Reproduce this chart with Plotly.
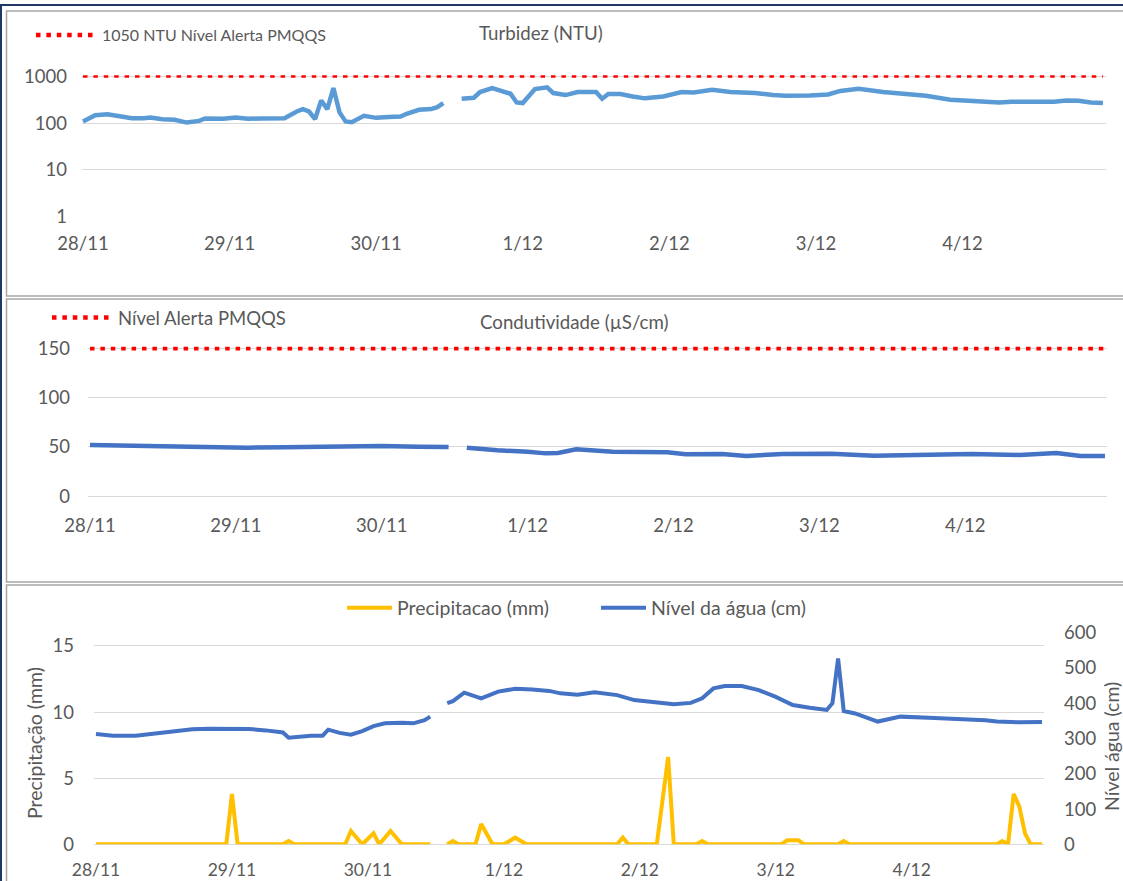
import plotly.graph_objects as go

W, H = 1123, 881


def px(x):
    return x / W


def py(y):
    return 1 - y / H


# ---------------- data ----------------
dates = ["28/11", "29/11", "30/11", "1/12", "2/12", "3/12", "4/12"]
day_hours = [0, 24, 48, 72, 96, 120, 144]

# Turbidez (NTU) - hour since 28/11 00:00
turb_h = [0, 2, 4, 6, 8, 10, 11, 13, 15, 17, 19, 20, 23, 25, 27, 29, 31, 33,
          35, 36, 37, 38, 39, 40, 41, 42, 43, 44, 46, 48, 50, 52, 53, 55, 57,
          58, 59, 60,
          62, 64, 65, 67, 70, 71, 72, 74, 76, 77, 79, 81, 84, 85, 86, 88, 90,
          92, 95, 98, 100, 103, 106, 110, 113, 115, 119, 122, 124, 127, 131,
          135, 138, 142, 145, 147, 150, 152, 156, 159, 161, 163, 165, 167]
turb_v = [109, 148, 156, 144, 128, 128, 132, 122, 118, 103, 112, 126, 124, 132,
          124, 126, 130, 128,
          178, 200, 178, 122, 307, 200, 566, 170, 109, 105, 144, 130, 135, 139,
          159, 194, 200, 221, 269, None,
          333, 350, 464, 566, 427, 278, 270, 537, 584, 441, 400, 464, 464, 333,
          420, 420, 374, 340, 374, 464, 456, 520, 464, 441, 400, 386, 393, 412,
          490, 547, 464, 407, 386, 318, 302, 297, 278, 287, 287, 287, 307, 302,
          278, 269]
turb_alert = 1050

# Condutividade (uS/cm)
cond_h = [0, 8, 13, 20, 26, 32, 38, 42, 48, 54, 59, 60,
          62, 67, 72, 75, 77, 80, 83, 86, 95, 98, 104, 108, 114, 122, 129, 136,
          145, 153, 159, 163, 167]
cond_v = [52, 51.3, 50, 49.6, 49.3, 49.6, 50.3, 51.3, 51, 50.3, 50, None,
          49.3, 46.6, 45.2, 43.5, 43.9, 47.6, 46.5, 45.2, 44.6, 42.6, 42.9, 40.9,
          42.9, 43.2, 41.2, 42.2, 42.9, 41.9, 43.9, 40.9, 40.9]
cond_alert = 150

# Precipitacao (mm)
rain_h = [0, 23, 24, 25, 33, 34, 35, 44, 45, 47, 49, 50, 52, 54, 59, 60,
          62, 63, 64, 67, 68, 70, 72, 74, 76, 92, 93, 94, 99, 101, 102, 106,
          107, 108, 121, 122, 124, 125, 131, 132, 133, 159, 160, 161, 162, 163,
          164, 165, 167]
rain_v = [0, 0, 3.8, 0, 0, 0.25, 0, 0, 1.0, 0, 0.83, 0, 1.0, 0, 0, None,
          0, 0.25, 0, 0, 1.54, 0, 0, 0.5, 0, 0, 0.5, 0, 0, 6.6, 0, 0,
          0.25, 0, 0, 0.3, 0.3, 0, 0, 0.25, 0, 0, 0.25, 0, 3.8, 2.85,
          0.83, 0, 0]

# Nivel da agua (cm)
level_h = [0, 3, 7, 10, 14, 17, 20, 24, 27, 30, 33, 34, 36, 38, 40, 41, 43,
           45, 47, 49, 51, 54, 56, 58, 59, 60,
           62, 63, 65, 68, 71, 74, 77, 80, 82, 85, 88, 92, 95, 99, 102, 105,
           107, 109, 111, 114, 117, 120, 123, 126, 129, 130, 131, 132, 134, 138,
           142, 147, 153, 157, 159, 163, 167]
level_v = [313, 308, 308, 313, 320, 326, 328, 327, 327, 323, 317, 302, 305,
           308, 308, 325, 316, 311, 321, 335, 343, 345, 343, 352, 362, None,
           400, 406, 430, 414, 433, 441, 439, 435, 428, 424, 431, 423, 409, 401,
           397, 401, 414, 442, 449, 449, 437, 418, 395, 387, 381, 400, 527, 378,
           371, 348, 362, 359, 355, 352, 348, 346, 347]

# ---------------- style ----------------
FONT = "Lato"
TXT = "#595959"
GRID = "#D9D9D9"
RED = "#FF0000"

fig = go.Figure()

dot = "4.5px,5.9px"

fig.add_trace(go.Scatter(x=[0, 167], y=[turb_alert, turb_alert], mode="lines",
                         name="1050 NTU Nível Alerta PMQQS",
                         line=dict(color=RED, width=4.5, dash=dot),
                         xaxis="x", yaxis="y", legend="legend"))
fig.add_trace(go.Scatter(x=turb_h, y=turb_v, mode="lines", name="Turbidez",
                         line=dict(color="#5B9BD5", width=4.5),
                         connectgaps=False, showlegend=False,
                         xaxis="x", yaxis="y"))

fig.add_trace(go.Scatter(x=[0, 167], y=[cond_alert, cond_alert], mode="lines",
                         name="Nível Alerta PMQQS",
                         line=dict(color=RED, width=4.5, dash=dot),
                         xaxis="x2", yaxis="y2", legend="legend2"))
fig.add_trace(go.Scatter(x=cond_h, y=cond_v, mode="lines", name="Condutividade",
                         line=dict(color="#4472C4", width=4.5),
                         connectgaps=False, showlegend=False,
                         xaxis="x2", yaxis="y2"))

fig.add_trace(go.Scatter(x=rain_h, y=rain_v, mode="lines",
                         name="Precipitacao (mm)",
                         line=dict(color="#FFC000", width=4),
                         connectgaps=False,
                         xaxis="x3", yaxis="y3", legend="legend3"))
fig.add_trace(go.Scatter(x=level_h, y=level_v, mode="lines",
                         name="Nível da água (cm)",
                         line=dict(color="#4472C4", width=4),
                         connectgaps=False,
                         xaxis="x3", yaxis="y4", legend="legend3"))

TICK = 18.5
tickfont = dict(family=FONT, size=TICK, color=TXT)


def xax(x0, x1, r0, r1, anchor, standoff, size=TICK):
    return dict(domain=[px(x0), px(x1)], range=[r0, r1], anchor=anchor,
                tickmode="array", tickvals=day_hours, ticktext=dates,
                showgrid=False, zeroline=False, showline=False,
                tickfont=dict(family=FONT, size=size, color=TXT), ticks="",
                ticklabelstandoff=standoff, automargin=False, fixedrange=True)


layout = dict(
    width=W, height=H,
    margin=dict(l=0, r=0, t=0, b=0, pad=0, autoexpand=False),
    paper_bgcolor="white", plot_bgcolor="white",
    font=dict(family=FONT, color=TXT),
    xaxis=xax(82, 1106, -0.16, 167.49, "y", 14),
    yaxis=dict(domain=[py(216.6), py(75.3)], type="log", range=[0, 3.025],
               anchor="x", tickmode="array", tickvals=[1, 10, 100, 1000],
               ticktext=["1", "10", "100", "1000"], gridcolor=GRID,
               gridwidth=1.3, zeroline=False, showline=False,
               tickfont=tickfont, ticklabelstandoff=14, automargin=False),
    xaxis2=xax(88, 1107, -0.33, 167.33, "y2", 16),
    yaxis2=dict(domain=[py(496.3), py(346.8)], range=[0, 151.5], anchor="x2",
                tickmode="array", tickvals=[0, 50, 100, 150], gridcolor=GRID,
                gridwidth=1.3, zeroline=True, zerolinecolor=GRID,
                zerolinewidth=1.3, showline=False, tickfont=tickfont,
                ticklabelstandoff=17, automargin=False),
    xaxis3=xax(94, 1044, -0.353, 167.35, "y3", 13, 17.5),
    yaxis3=dict(domain=[py(844.3), py(632.7)], range=[0, 16], anchor="x3",
                tickmode="array", tickvals=[0, 5, 10, 15], gridcolor=GRID,
                gridwidth=1.3, zeroline=True, zerolinecolor=GRID,
                zerolinewidth=1.3, showline=False, tickfont=tickfont,
                ticklabelstandoff=19, automargin=False),
    yaxis4=dict(overlaying="y3", side="right", range=[0, 600], anchor="x3",
                tickmode="array", tickvals=[0, 100, 200, 300, 400, 500, 600],
                showgrid=False, zeroline=False, showline=False,
                tickfont=tickfont, ticklabelstandoff=19, automargin=False),
    legend=dict(x=px(31), y=py(35), xanchor="left", yanchor="middle",
                bgcolor="rgba(0,0,0,0)", font=dict(family=FONT, size=16, color=TXT),
                itemwidth=61),
    legend2=dict(x=px(47), y=py(318), xanchor="left", yanchor="middle",
                 bgcolor="rgba(0,0,0,0)", font=dict(family=FONT, size=18.5, color=TXT),
                 itemwidth=61),
    legend3=dict(x=px(342), y=py(608), xanchor="left", yanchor="middle",
                 orientation="h", bgcolor="rgba(0,0,0,0)",
                 font=dict(family=FONT, size=19.5, color=TXT), itemwidth=45,
                 entrywidth=194, entrywidthmode="pixels"),
    showlegend=True,
)
fig.update_layout(**layout)

TITLE = 18.7
ann_font = dict(family=FONT, size=TITLE, color=TXT)
fig.add_annotation(text="Turbidez (NTU)", x=px(541), y=py(33), xref="paper",
                   yref="paper", showarrow=False, font=ann_font,
                   xanchor="center", yanchor="middle")
fig.add_annotation(text="Condutividade (µS/cm)", x=px(574), y=py(322),
                   xref="paper", yref="paper", showarrow=False, font=ann_font,
                   xanchor="center", yanchor="middle")
ax_font = dict(family=FONT, size=19.5, color=TXT)
fig.add_annotation(text="Precipitação (mm)", x=px(34), y=py(743), xref="paper",
                   yref="paper", showarrow=False, textangle=-90, font=ax_font,
                   xanchor="center", yanchor="middle")
fig.add_annotation(text="Nível água (cm)", x=px(1111), y=py(747), xref="paper",
                   yref="paper", showarrow=False, textangle=-90, font=ax_font,
                   xanchor="center", yanchor="middle")

# panel frames
for (y0, y1) in [(11, 296), (299, 582), (585, 900)]:
    fig.add_shape(type="rect", xref="paper", yref="paper",
                  x0=px(6.5), x1=px(1140), y0=py(y1), y1=py(y0),
                  line=dict(color="#A6A6A6", width=1.5), fillcolor="rgba(0,0,0,0)",
                  layer="below")
# outer navy frame
fig.add_shape(type="rect", xref="paper", yref="paper",
              x0=px(1), x1=px(1150), y0=py(900), y1=py(5),
              line=dict(color="#1F3864", width=2), fillcolor="rgba(0,0,0,0)")

fig.write_html("out.html", config={"displayModeBar": False},
               post_script="document.body.style.margin='0';")
